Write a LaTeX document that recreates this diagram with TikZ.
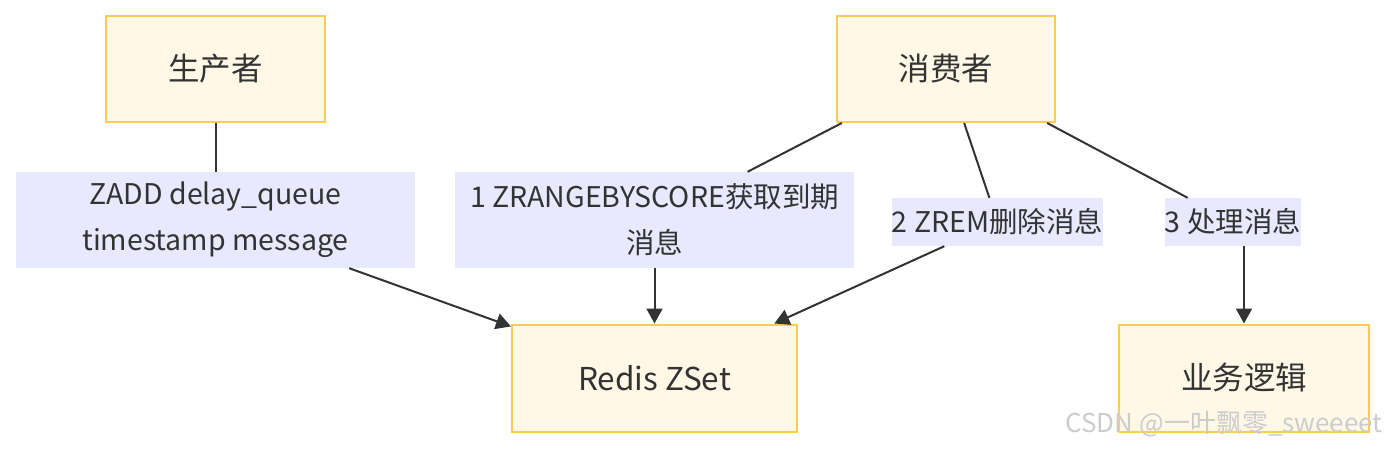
\documentclass[tikz,border=0pt]{standalone}
\usepackage{fontspec}
\setmainfont{Noto Sans CJK SC}
\usetikzlibrary{arrows.meta}
\definecolor{boxfill}{HTML}{FFF8E6}
\definecolor{boxline}{HTML}{FFCC4D}
\definecolor{lblfill}{HTML}{E8E8FF}
\definecolor{ink}{HTML}{333333}

\begin{document}
\begin{tikzpicture}[x=1pt, y=1pt,
  box/.style={draw=boxline, line width=2pt, fill=boxfill, text=ink,
    inner sep=0pt, font=\fontsize{31.5}{37}\selectfont},
  lbl/.style={fill=lblfill, text=ink, inner sep=0pt, align=center,
    font=\fontsize{28.5}{46}\selectfont},
  link/.style={draw=ink, line width=2pt},
  flow/.style={link, -{Triangle[length=15pt, width=16pt]}}]
\useasboundingbox (0,0) rectangle (1392,448);
% Producer / consumer row
\node[box, minimum width=219pt, minimum height=106pt] (prod) at (215.5,379) {生产者};
\node[box, minimum width=218pt, minimum height=106pt] (cons) at (946,379) {消费者};
% Edge labels
\node[lbl, minimum width=399pt, minimum height=96pt] (l0) at (215.5,228)
  {ZADD delay\_queue\\timestamp message};
\node[lbl, minimum width=399pt, minimum height=96pt] (l1) at (654.5,228)
  {1 ZRANGEBYSCORE获取到期\\消息};
\node[lbl, minimum width=207pt, minimum height=48pt] (l2) at (997.5,226) {2 ZREM删除消息};
\node[lbl, minimum width=133pt, minimum height=48pt] (l3) at (1233,226) {3 处理消息};
% Targets
\node[box, minimum width=285pt, minimum height=107pt] (zset) at (654.5,70) {Redis ZSet};
\node[box, minimum width=250pt, minimum height=107pt] (biz) at (1244,70) {业务逻辑};
% Connectors
\draw[link] (prod) -- (l0);
\draw[flow] (l0) -- (zset);
\draw[link] (cons) -- (l1);
\draw[flow] (l1) -- (zset);
\draw[link] (cons) -- (l2);
\draw[flow] (l2) -- (zset);
\draw[link] (cons) -- (l3);
\draw[flow] (l3.south -| biz.north) -- (biz.north);
% Watermark
\node[anchor=west, text=gray!40, font=\fontsize{26}{30}\selectfont] (mark) at (1062,24)
  {CSDN @一叶飘零\_sweeeet};
\end{tikzpicture}
\end{document}
